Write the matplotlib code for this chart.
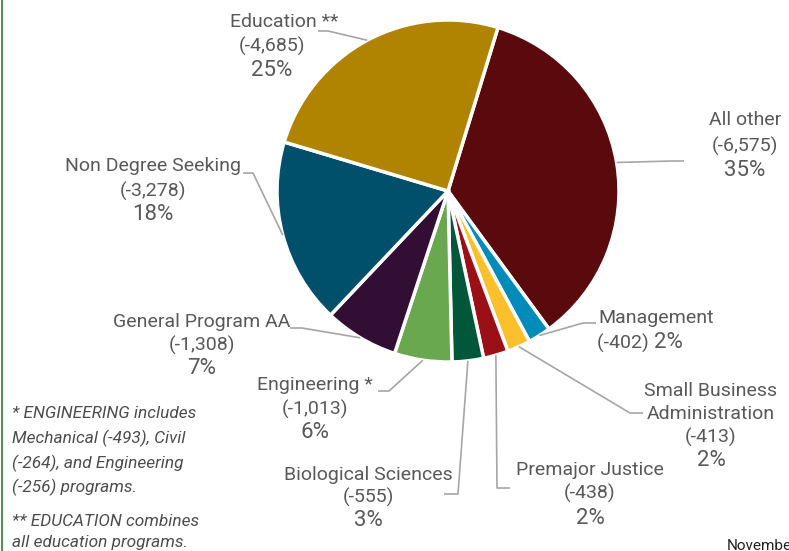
import numpy as np
import matplotlib.pyplot as plt
from matplotlib.lines import Line2D

# data, clockwise from the top (Education / All other boundary)
programs = ['All other', 'Management', 'Small Business\nAdministration', 'Premajor Justice',
            'Biological Sciences', 'Engineering *', 'General Program AA',
            'Non Degree Seeking', 'Education **']
counts = [6575, 402, 413, 438, 555, 1013, 1308, 3278, 4685]
count_labels = ['(-6,575)', '(-402)', '(-413)', '(-438)', '(-555)', '(-1,013)', '(-1,308)',
                '(-3,278)', '(-4,685)']
pct_labels = ['35%', '2%', '2%', '2%', '3%', '6%', '7%', '18%', '25%']
colors = ['#5A0A0C', '#008CBA', '#FCC02C', '#9A1016', '#00573A', '#69A84F', '#330E34',
          '#004F6B', '#B08300']

footnotes = ['* ENGINEERING includes', 'Mechanical (-493), Civil', '(-264), and Engineering',
             '(-256) programs.', '** EDUCATION combines', 'all education programs.']

W, H = 789, 551
txt = '#595959'
lead = '#A6A6A6'
plt.rcParams['font.family'] = ['Roboto', 'DejaVu Sans']

fig = plt.figure(figsize=(W / 100, H / 100), dpi=100)
ax = fig.add_axes([0, 0, 1, 1])

def Y(py):
    # pixel row -> data y
    return H - py

cx, cy, r = 448, Y(191), 171
wedges, _ = ax.pie(counts, colors=colors, startangle=73, counterclock=False,
                   center=(cx, cy), radius=r, frame=True,
                   wedgeprops=dict(edgecolor='white', linewidth=2.5))
ax.set_xlim(0, W)
ax.set_ylim(0, H)
ax.set_aspect('equal')
ax.axis('off')

# label layout: centre x, y of name line(s), y of count line, y of pct line
layout = {
    0: dict(x=745, name=[120], cnt=146, pct=170, elbow=[(672, 161), (684, 161)]),
    1: dict(x=656, name=[318], cnt=None, pct=343, elbow=[(583, 323), (596, 323)]),
    2: dict(x=711, name=[391, 414], cnt=437, pct=461, elbow=[(630, 413), (643, 413)]),
    3: dict(x=590, name=[470], cnt=493, pct=518, elbow=[(497, 488), (510, 488)]),
    4: dict(x=368, name=[475], cnt=497, pct=521, elbow=[(458, 494), (444, 494)]),
    5: dict(x=315, name=[385], cnt=409, pct=432, elbow=[(389, 391), (378, 391)]),
    6: dict(x=202, name=[322], cnt=345, pct=368, elbow=[(302, 328), (290, 328)]),
    7: dict(x=153, name=[166], cnt=191, pct=214, elbow=[(253, 173), (243, 173)]),
    8: dict(x=284, name=[22], cnt=46, pct=71, elbow=[(328, 31), (318, 31)]),
}

for i, w in enumerate(wedges):
    L = layout[i]
    for j, line in enumerate(programs[i].split('\n')):
        ax.text(L['x'], Y(L['name'][j]), line, ha='center', va='center',
                fontsize=14, color=txt)
    if L['cnt'] is not None:
        ax.text(L['x'] if i != 8 else 272, Y(L['cnt']), count_labels[i], ha='center',
                va='center', fontsize=14, color=txt)
        ax.text(L['x'] if i != 8 else 272, Y(L['pct']), pct_labels[i], ha='center',
                va='center', fontsize=16, color=txt)
    else:
        ax.text(L['x'] - 2, Y(L['pct']), count_labels[i] + ' ', ha='right', va='center',
                fontsize=14, color=txt)
        ax.text(L['x'] - 2, Y(L['pct']), pct_labels[i], ha='left', va='center',
                fontsize=16, color=txt)
    # leader line from the wedge edge to the label
    mid = np.deg2rad((w.theta1 + w.theta2) / 2)
    sx, sy = cx + r * np.cos(mid), cy + r * np.sin(mid)
    xs = [sx] + [p[0] for p in L['elbow']]
    ys = [sy] + [Y(p[1]) for p in L['elbow']]
    ax.plot(xs, ys, color=lead, lw=1.2, solid_capstyle='butt')

# footnotes
foot_y = [413, 438, 463, 487, 521, 543]
for t, fy in zip(footnotes, foot_y):
    ax.text(12, Y(fy), t, ha='left', va='center', fontsize=12.4, style='italic',
            color='#4D4D4D')

ax.text(727, Y(546), 'November', ha='left', va='center', fontsize=11, color='#222222')

fig.add_artist(Line2D([2 / W, 2 / W], [0, 1], color='#2F7D3A', lw=1.2,
                      transform=fig.transFigure))

fig.savefig('out.png', dpi=100)
